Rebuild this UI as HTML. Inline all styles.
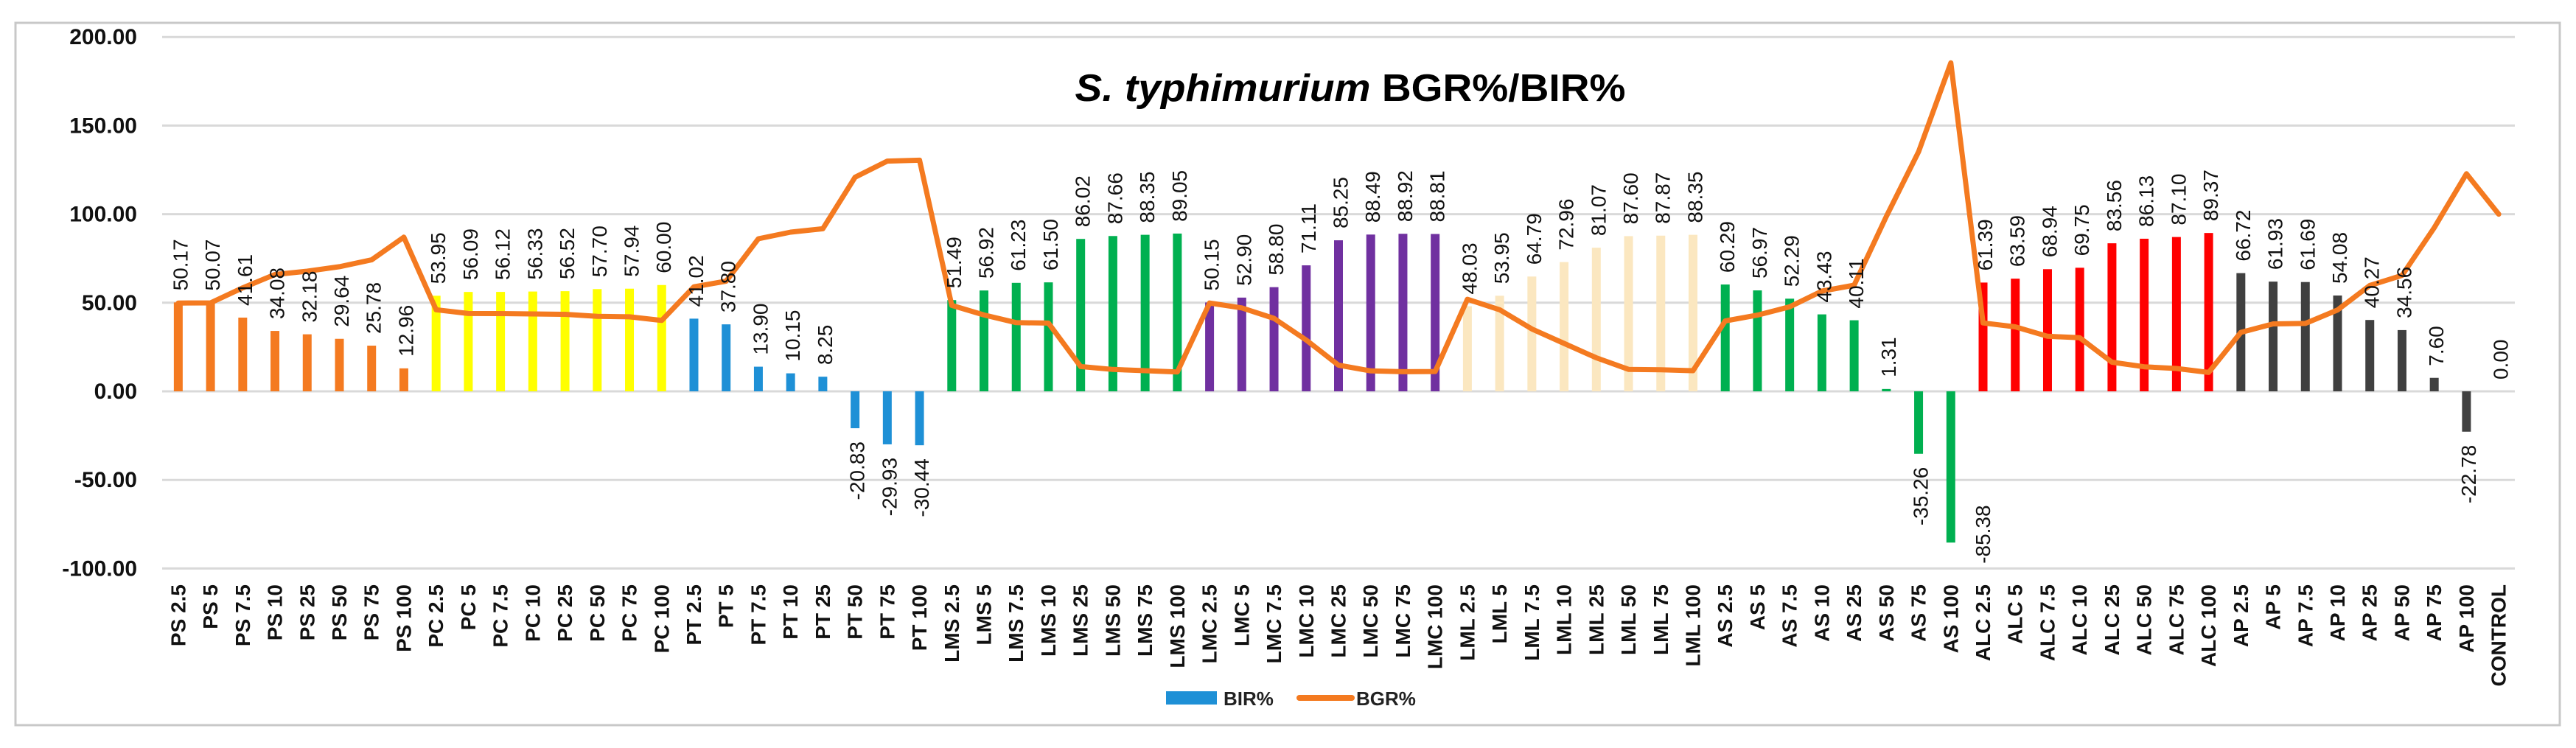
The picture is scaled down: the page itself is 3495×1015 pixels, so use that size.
<!DOCTYPE html>
<html><head><meta charset="utf-8"><style>
html,body{margin:0;padding:0;background:#fff;}
svg{display:block;font-family:"Liberation Sans",sans-serif;}
</style></head><body>
<svg id="chart" width="3495" height="1015" viewBox="0 0 3495 1015" xmlns="http://www.w3.org/2000/svg">
<rect x="21" y="31" width="3452" height="953" fill="#fff" stroke="#c8c8c8" stroke-width="3"/>
<g id="grid"></g>
<g id="yticks"></g>
<g id="bars"></g>
<g id="line"></g>
<g id="labels"></g>
<g id="xlabels"></g>
<text x="1832" y="137" text-anchor="middle" font-size="52" font-weight="bold" fill="#000" textLength="747" lengthAdjust="spacingAndGlyphs"><tspan font-style="italic">S. typhimurium</tspan> BGR%/BIR%</text>
<g>
<rect x="1582" y="938" width="69" height="18" fill="#1E90D6"/>
<text x="1660" y="957" font-size="26" font-weight="bold" fill="#222">BIR%</text>
<line x1="1763" y1="947" x2="1834" y2="947" stroke="#F47A20" stroke-width="8" stroke-linecap="round"/>
<text x="1840" y="957" font-size="26" font-weight="bold" fill="#222">BGR%</text>
</g>
</svg>
<script>
const categories = ["PS 2.5","PS 5","PS 7.5","PS 10","PS 25","PS 50","PS 75","PS 100",
"PC 2.5","PC 5","PC 7.5","PC 10","PC 25","PC 50","PC 75","PC 100",
"PT 2.5","PT 5","PT 7.5","PT 10","PT 25","PT 50","PT 75","PT 100",
"LMS 2.5","LMS 5","LMS 7.5","LMS 10","LMS 25","LMS 50","LMS 75","LMS 100",
"LMC 2.5","LMC 5","LMC 7.5","LMC 10","LMC 25","LMC 50","LMC 75","LMC 100",
"LML 2.5","LML 5","LML 7.5","LML 10","LML 25","LML 50","LML 75","LML 100",
"AS 2.5","AS 5","AS 7.5","AS 10","AS 25","AS 50","AS 75","AS 100",
"ALC 2.5","ALC 5","ALC 7.5","ALC 10","ALC 25","ALC 50","ALC 75","ALC 100",
"AP 2.5","AP 5","AP 7.5","AP 10","AP 25","AP 50","AP 75","AP 100","CONTROL"];
const birValues = [50.17,50.07,41.61,34.08,32.18,29.64,25.78,12.96,
53.95,56.09,56.12,56.33,56.52,57.70,57.94,60.00,
41.02,37.80,13.90,10.15,8.25,-20.83,-29.93,-30.44,
51.49,56.92,61.23,61.50,86.02,87.66,88.35,89.05,
50.15,52.90,58.80,71.11,85.25,88.49,88.92,88.81,
48.03,53.95,64.79,72.96,81.07,87.60,87.87,88.35,
60.29,56.97,52.29,43.43,40.11,1.31,-35.26,-85.38,
61.39,63.59,68.94,69.75,83.56,86.13,87.10,89.37,
66.72,61.93,61.69,54.08,40.27,34.56,7.60,-22.78,0.00];
const bgrValues = [49.83,49.93,58.39,65.92,67.82,70.36,74.22,87.04,
46.05,43.91,43.88,43.67,43.48,42.30,42.06,40.00,
58.98,62.20,86.10,89.85,91.75,120.83,129.93,130.44,
48.51,43.08,38.77,38.50,13.98,12.34,11.65,10.95,
49.85,47.10,41.20,28.89,14.75,11.51,11.08,11.19,
51.97,46.05,35.21,27.04,18.93,12.40,12.13,11.65,
39.71,43.03,47.71,56.57,59.89,98.69,135.26,185.38,
38.61,36.41,31.06,30.25,16.44,13.87,12.90,10.63,
33.28,38.07,38.31,45.92,59.73,65.44,92.40,122.78,100.00];
const groupColors = ["#F47A20","#FFFF00","#1E90D6","#00B050","#7030A0","#FBE7C0","#00B050","#FF0000","#404040","#404040"];
const yTicks = [200,150,100,50,0,-50,-100];
const yTickLabels = ["200.00","150.00","100.00","50.00","0.00","-50.00","-100.00"];

const NS="http://www.w3.org/2000/svg";
const plotL=220, plotR=3412, zeroY=531, pxPerUnit=2.404;
const band=(plotR-plotL)/categories.length;
function xPos(i){return plotL+band*(i+0.5);}
function yPos(v){return zeroY-v*pxPerUnit;}
function mk(tag,attrs,parent){const e=document.createElementNS(NS,tag);for(const k in attrs)e.setAttribute(k,attrs[k]);parent.appendChild(e);return e;}

const grid=document.getElementById('grid'), yt=document.getElementById('yticks');
yTicks.forEach((t,i)=>{
  const g=mk('line',{x1:plotL,x2:plotR,y1:yPos(t),y2:yPos(t),stroke:'#d9d9d9','stroke-width':3},grid);
  
  
  const tx=mk('text',{x:186,y:yPos(t)+10,'text-anchor':'end','font-size':30,'font-weight':'bold',fill:'#111'},yt);
  tx.textContent=yTickLabels[i];
  
  
});

const bars=document.getElementById('bars'), labels=document.getElementById('labels'), xl=document.getElementById('xlabels');
const minY=yPos(-100), labelLen=86;
categories.forEach((c,i)=>{
  const v=birValues[i], x=xPos(i), col=groupColors[Math.floor(i/8)];
  const y0=yPos(Math.max(v,0)), h=Math.abs(yPos(v)-zeroY);
  if(h>0){
    const r=mk('rect',{x:x-6,y:y0,width:12,height:h,fill:col},bars);
    
    
  }
  let lx=x+3;
  let ly, anchor;
  if(v>=0){ly=yPos(v)-16;anchor='start';}
  else{
    ly=yPos(v)+18;anchor='end';
    if(ly+labelLen>minY){lx=x+band;ly=minY-labelLen;}
  }
  const t=mk('text',{x:lx,y:ly,'text-anchor':anchor,'dominant-baseline':'central','font-size':28,fill:'#111',transform:`rotate(-90 ${lx} ${ly})`},labels);
  t.textContent=v.toFixed(2);
  
  
  const xy=793;
  const xt=mk('text',{x:x,y:xy,'text-anchor':'end','dominant-baseline':'central','font-size':28,'font-weight':'bold',fill:'#111',transform:`rotate(-90 ${x} ${xy})`},xl);
  xt.textContent=c;
  
  
});

const pts=bgrValues.map((v,i)=>xPos(i).toFixed(1)+','+yPos(v).toFixed(1)).join(' ');
const pl=mk('polyline',{points:pts,fill:'none',stroke:'#F47A20','stroke-width':7,'stroke-linejoin':'round','stroke-linecap':'round'},document.getElementById('line'));


</script>
</body></html>
